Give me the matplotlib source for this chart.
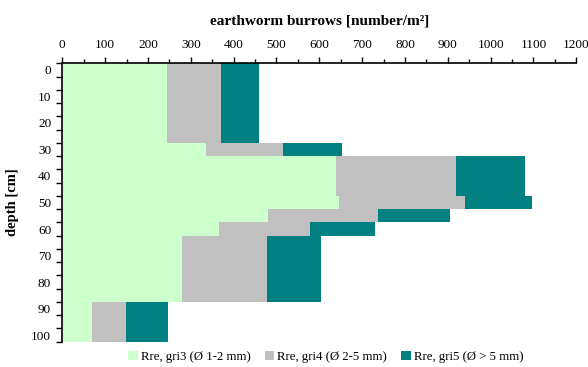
import numpy as np
import matplotlib
matplotlib.use("Agg")
import matplotlib.pyplot as plt
from matplotlib.ticker import MultipleLocator, FixedLocator

plt.rcParams['font.family'] = ['Liberation Serif', 'DejaVu Serif']

depths = list(range(0, 101, 5))
gri3 = [244, 244, 244, 244, 244, 244, 335, 639, 639, 639, 646, 480, 366,
        279, 279, 279, 279, 279, 69, 69, 69]
gri4 = [126, 126, 126, 126, 126, 126, 180, 280, 280, 280, 294, 257, 212,
        199, 199, 199, 199, 199, 80, 80, 80]
gri5 = [89, 89, 89, 89, 89, 89, 138, 161, 161, 161, 156, 168, 152,
        126, 126, 126, 126, 126, 97, 97, 97]
series_labels = ['Rre, gri3 (Ø 1-2 mm)', 'Rre, gri4 (Ø 2-5 mm)', 'Rre, gri5 (Ø > 5 mm)']
colors = ['#CCFFCC', '#C0C0C0', '#008080']

fig = plt.figure(figsize=(5.88, 3.67), dpi=100)
ax = fig.add_axes([62.3/588, 1-341.7/367, (576.3-62.3)/588, (341.7-63.3)/367])

y = np.arange(len(depths))
g3 = np.array(gri3); g4 = np.array(gri4); g5 = np.array(gri5)
ax.barh(y, g3, height=1.0, color=colors[0], label=series_labels[0], linewidth=0)
ax.barh(y, g4, left=g3, height=1.0, color=colors[1], label=series_labels[1], linewidth=0)
ax.barh(y, g5, left=g3+g4, height=1.0, color=colors[2], label=series_labels[2], linewidth=0)

ax.set_ylim(len(depths)-0.5, -0.5)
ax.set_xlim(0, 1200)

ax.xaxis.tick_top()
ax.xaxis.set_label_position('top')
ax.xaxis.set_major_locator(MultipleLocator(100))
ax.xaxis.set_minor_locator(MultipleLocator(50))
ax.tick_params(axis='x', which='major', length=4, width=1, labelsize=9.5, pad=5, direction='out')
ax.tick_params(axis='x', which='minor', length=3, width=1, direction='out')

major_pos = [i for i, d in enumerate(depths) if d % 10 == 0]
ax.yaxis.set_major_locator(FixedLocator(major_pos))
ax.set_yticklabels([str(depths[i]) for i in major_pos])
ax.yaxis.set_minor_locator(FixedLocator(np.arange(-0.5, len(depths), 1.0)))
ax.tick_params(axis='y', which='major', length=0, labelsize=9.5, pad=8)
ax.tick_params(axis='y', which='minor', length=4, width=1, direction='out')

for s in ['right', 'bottom']:
    ax.spines[s].set_visible(False)
for s in ['top', 'left']:
    ax.spines[s].set_linewidth(1.2)

ax.set_xlabel('earthworm burrows [number/m²]', fontsize=11, fontweight='bold', labelpad=10)
ax.set_ylabel('depth [cm]', fontsize=10.5, fontweight='bold', labelpad=9)

fig.legend(loc='center', bbox_to_anchor=(0.554, 1-357/367), ncol=3, frameon=False,
           fontsize=9.2, handlelength=0.75, handleheight=0.75, handletextpad=0.25,
           columnspacing=1.1, borderaxespad=0, borderpad=0)

fig.savefig('out.png', dpi=100)
